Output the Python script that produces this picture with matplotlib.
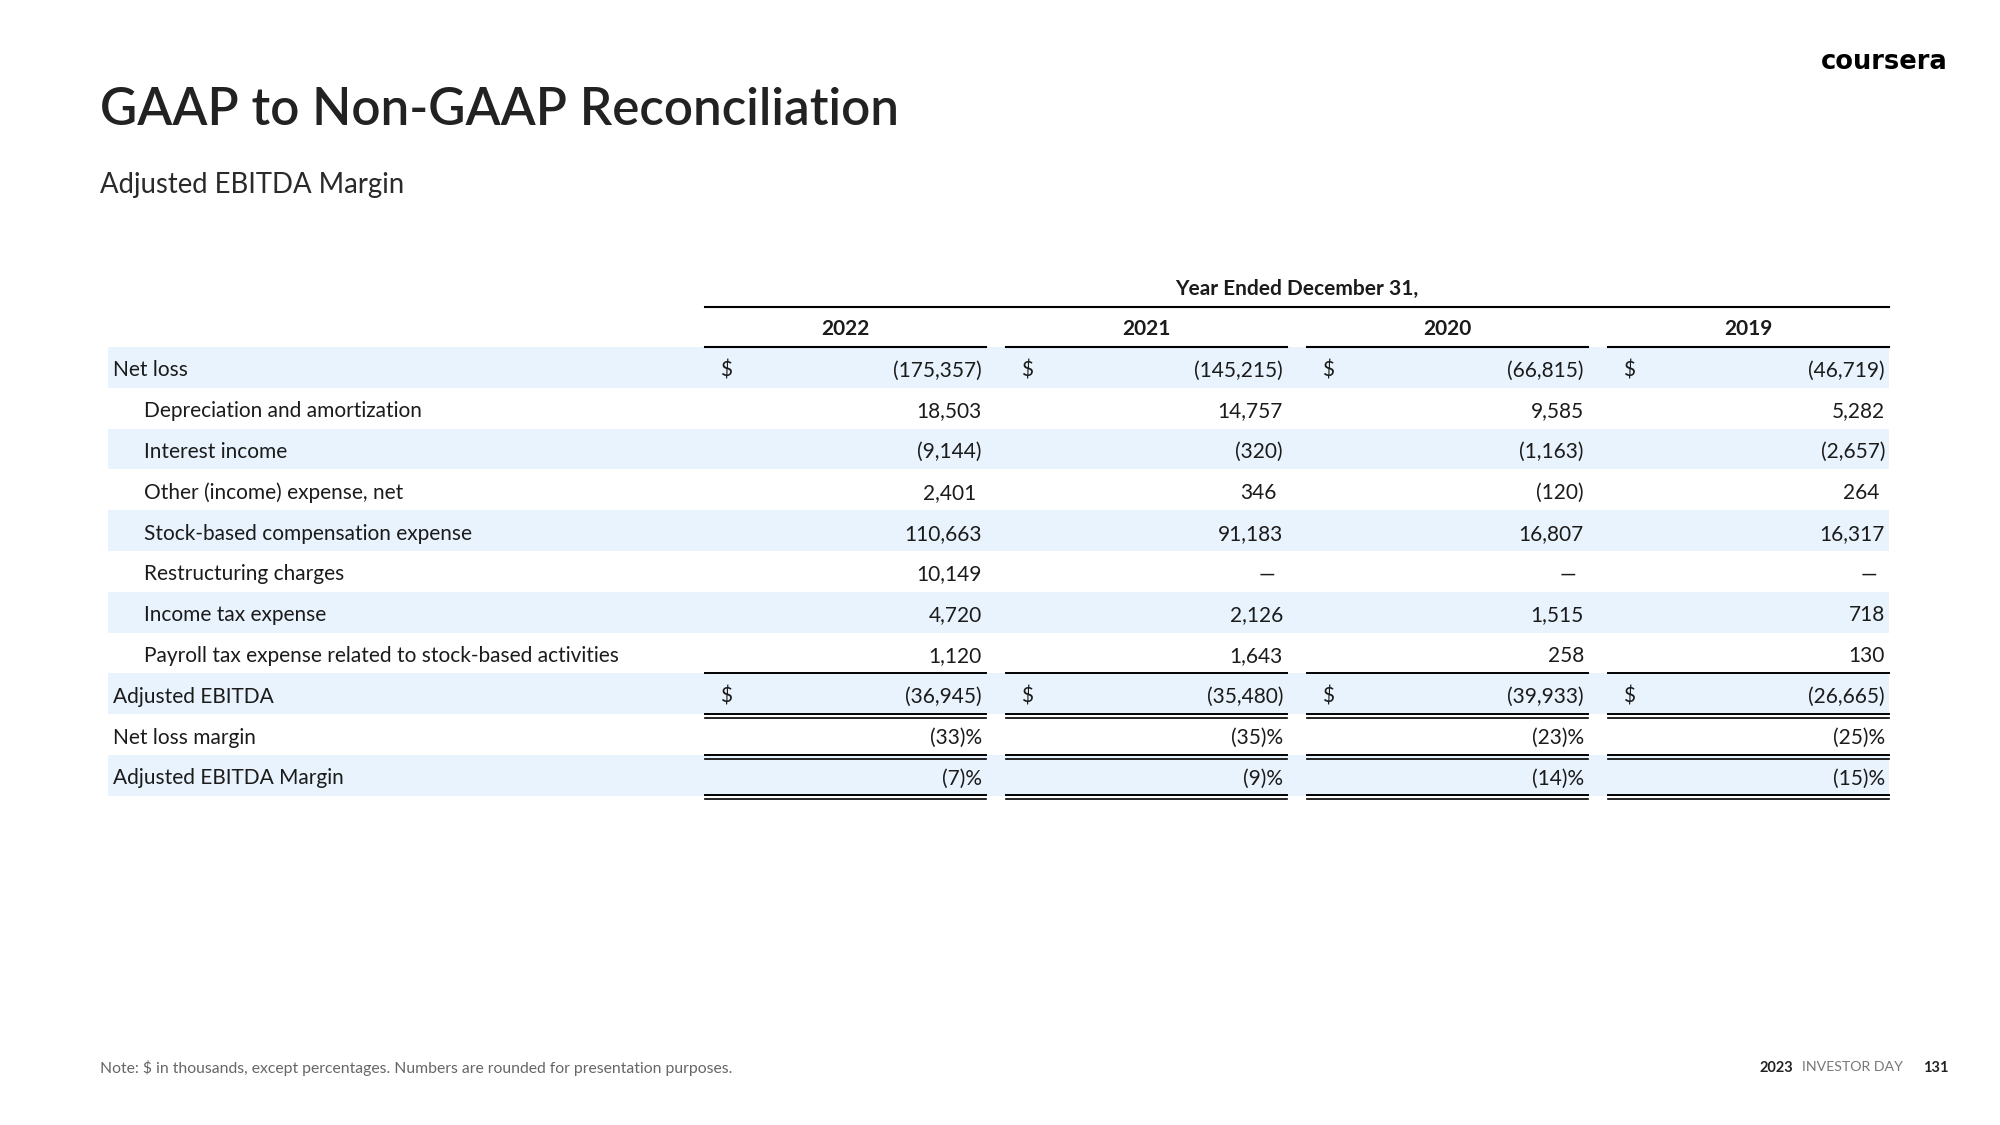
import matplotlib.pyplot as plt

plt.rcParams['font.family'] = ['Lato', 'DejaVu Sans']

# table content
years = ["2022", "2021", "2020", "2019"]
row_labels = ["Net loss",
              "Depreciation and amortization",
              "Interest income",
              "Other (income) expense, net",
              "Stock-based compensation expense",
              "Restructuring charges",
              "Income tax expense",
              "Payroll tax expense related to stock-based activities",
              "Adjusted EBITDA",
              "Net loss margin",
              "Adjusted EBITDA Margin"]
net_loss = [-175357, -145215, -66815, -46719]
depreciation = [18503, 14757, 9585, 5282]
interest_income = [-9144, -320, -1163, -2657]
other_expense = [2401, 346, -120, 264]
stock_comp = [110663, 91183, 16807, 16317]
restructuring = [10149, 0, 0, 0]
income_tax = [4720, 2126, 1515, 718]
payroll_tax = [1120, 1643, 258, 130]
adj_ebitda = [-36945, -35480, -39933, -26665]
net_loss_margin = [-33, -35, -23, -25]
adj_ebitda_margin = [-7, -9, -14, -15]

rows = [net_loss, depreciation, interest_income, other_expense, stock_comp,
        restructuring, income_tax, payroll_tax, adj_ebitda,
        net_loss_margin, adj_ebitda_margin]
is_pct = [False] * 9 + [True, True]
indented = [False, True, True, True, True, True, True, True, False, False, False]
dollar_rows = [0, 8]


def fmt(v, pct=False):
    if v == 0:
        return "\u2014"
    s = f"{abs(v):,}"
    if v < 0:
        s = "(" + s + ")"
    return s + "%" if pct else s


fig = plt.figure(figsize=(20, 11.25), dpi=100)
ax = fig.add_axes([0, 0, 1, 1])
ax.set_xlim(0, 2000)
ax.set_ylim(1125, 0)
ax.axis('off')

dark = '#1b1b1b'

# header texts
ax.text(100, 106, "GAAP to Non-GAAP Reconciliation", fontsize=36.8, fontweight='semibold',
        color='#222222', va='center_baseline')
ax.text(100, 183, "Adjusted EBITDA Margin", fontsize=19.8, color='#2a2a2a', va='center_baseline')
ax.text(1948, 59, "coursera", fontsize=18.5, fontweight='bold', color='black',
        ha='right', va='center_baseline', family=['DejaVu Sans'])

# table layout
col_left = [705, 1006, 1307, 1608]
col_w = 281
row_h = 40.8
top = 347
shade = '#e9f3fd'

ax.text(1297, 287, "Year Ended December 31,", fontsize=15, fontweight='bold', color=dark,
        ha='center', va='center_baseline')
ax.plot([705, 1889], [307, 307], color='black', lw=1.5)
for x0, yr in zip(col_left, years):
    ax.text(x0 + col_w / 2, 327, yr, fontsize=15, fontweight='bold', color=dark,
            ha='center', va='center_baseline')
    ax.plot([x0, x0 + col_w], [top, top], color='black', lw=1.5)

for i, (label, vals) in enumerate(zip(row_labels, rows)):
    y0 = top + i * row_h
    yc = y0 + row_h / 2 + 1
    if i % 2 == 0:
        ax.add_patch(plt.Rectangle((108, y0), 1889 - 108, row_h, color=shade, lw=0, zorder=0))
    ax.text(144 if indented[i] else 113, yc, label, fontsize=15, color=dark, va='center_baseline')
    for j, v in enumerate(vals):
        x_right = col_left[j] + col_w - 4
        if v == 0:
            x_right -= 8
        elif i == 3 and v > 0:
            x_right -= 6
        ax.text(x_right, yc, fmt(v, is_pct[i]), fontsize=15, color=dark,
                ha='right', va='center_baseline')
        if i in dollar_rows:
            ax.text(col_left[j] + 15, yc, "$", fontsize=15, color=dark, va='center_baseline')

# rule lines under totals
for x0 in col_left:
    y_pay = top + 8 * row_h
    ax.plot([x0, x0 + col_w], [y_pay, y_pay], color='black', lw=1.4)
    for k in (9, 10, 11):
        yb = top + k * row_h
        ax.plot([x0, x0 + col_w], [yb - 0.5, yb - 0.5], color='black', lw=1.4)
        ax.plot([x0, x0 + col_w], [yb + 3.5, yb + 3.5], color='black', lw=1.2)

# footer
ax.text(100, 1066, "Note: $ in thousands, except percentages. Numbers are rounded for presentation purposes.",
        fontsize=11.3, color='#666666', va='center_baseline')
ax.text(1760, 1066, "2023", fontsize=10.5, fontweight='bold', color='#222222', va='center_baseline')
ax.text(1802, 1066, "INVESTOR DAY", fontsize=10.2, color='#777777', va='center_baseline')
ax.text(1949, 1066, "131", fontsize=10.5, fontweight='bold', color='#222222', ha='right',
        va='center_baseline')

fig.savefig("out.png", dpi=100, facecolor='white')
